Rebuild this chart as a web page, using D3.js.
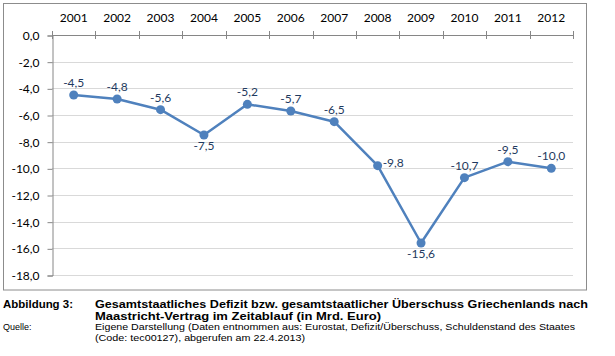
<!DOCTYPE html>
<html><head><meta charset="utf-8">
<script src="https://cdn.jsdelivr.net/npm/d3@7"></script>
<style>body{margin:0;background:#fff}svg{display:block}</style>
</head><body>
<svg id="c" width="615" height="356"></svg>
<script>
const years = ["2001","2002","2003","2004","2005","2006","2007","2008","2009","2010","2011","2012"];
const values = [-4.5,-4.8,-5.6,-7.5,-5.2,-5.7,-6.5,-9.8,-15.6,-10.7,-9.5,-10.0];
const yTicks = [0,-2,-4,-6,-8,-10,-12,-14,-16,-18];
const captionLabel = "Abbildung 3:";
const captionLines = ["Gesamtstaatliches Defizit bzw. gesamtstaatlicher Überschuss Griechenlands nach",
                      "Maastricht-Vertrag im Zeitablauf (in Mrd. Euro)"];
const sourceLabel = "Quelle:";
const sourceLines = ["Eigene Darstellung (Daten entnommen aus: Eurostat, Defizit/Überschuss, Schuldenstand des Staates",
                     "(Code: tec00127), abgerufen am 22.4.2013)"];
// label placement (layout choice, not data)
const placement = {"2004":"below","2008":"right","2009":"below"};

const svg = d3.select("#c");
const fmt = v => d3.format(".1f")(v).replace(".", ",").replace("−","-");
const font = "Lato, 'Open Sans', sans-serif";

// chart frame
svg.append("rect").attr("x",3.5).attr("y",3.5).attr("width",583).attr("height",286.5)
  .attr("fill","#fff").attr("stroke","#8c8c8c").attr("stroke-width",1);

const x = d3.scaleBand().domain(years).range([52,573]).padding(0);
const y = d3.scaleLinear().domain([0,-18]).range([35,275]);

// gridlines
svg.append("g").selectAll("line").data(yTicks.filter(t=>t!==0)).join("line")
  .attr("x1",52).attr("x2",573).attr("y1",d=>Math.round(y(d))+0.5).attr("y2",d=>Math.round(y(d))+0.5)
  .attr("stroke","#d9d9d9").attr("stroke-width",1);

// y axis
const ya = svg.append("g").attr("transform","translate(52.5,0.5)")
  .call(d3.axisLeft(y).tickValues(yTicks).tickSize(5).tickPadding(8).tickFormat(fmt));
ya.select(".domain").attr("stroke","#868686");
ya.selectAll(".tick line").attr("stroke","#868686");
ya.selectAll(".tick text").attr("fill","#000").style("font-family",font).style("font-size","12px");

// top category axis
const xa = svg.append("g");
xa.append("line").attr("x1",52).attr("x2",573).attr("y1",35.5).attr("y2",35.5).attr("stroke","#868686");
const bounds = years.map(d=>x(d)).concat([x.range()[1]]);
xa.selectAll("line.t").data(bounds).join("line").attr("class","t")
  .attr("x1",d=>Math.round(d)+0.5).attr("x2",d=>Math.round(d)+0.5).attr("y1",31).attr("y2",39)
  .attr("stroke","#868686");
xa.selectAll("text").data(years).join("text")
  .attr("x",d=>x(d)+x.bandwidth()/2).attr("y",22).attr("text-anchor","middle")
  .style("font-family",font).style("font-size","12px").attr("fill","#000").text(d=>d);

// line
const pts = years.map((d,i)=>({year:d,v:values[i]}));
const cx = d=>x(d.year)+x.bandwidth()/2;
svg.append("path").datum(pts)
  .attr("d",d3.line().x(cx).y(d=>y(d.v)))
  .attr("fill","none").attr("stroke","#4f81bd").attr("stroke-width",2.5).attr("stroke-linejoin","round");
svg.append("g").selectAll("circle").data(pts).join("circle")
  .attr("cx",cx).attr("cy",d=>y(d.v)).attr("r",4.5).attr("fill","#4f81bd");

// data labels
svg.append("g").selectAll("text").data(pts).join("text")
  .attr("x",d=>placement[d.year]==="right" ? cx(d)+5 : cx(d))
  .attr("y",d=>{const p=placement[d.year]; return p==="below"? y(d.v)+15 : p==="right"? y(d.v)+1 : y(d.v)-8;})
  .attr("text-anchor",d=>placement[d.year]==="right"?"start":"middle")
  .style("font-family",font).style("font-size","12px").attr("fill","#1f3a60")
  .text(d=>fmt(d.v));

// caption
const cf = "'Liberation Sans', Arial, sans-serif";
svg.append("text").attr("x",3).attr("y",308).style("font-family",cf).style("font-size","10px")
  .style("font-weight","bold").attr("textLength",70).attr("lengthAdjust","spacingAndGlyphs").text(captionLabel);
const capLens = [493, 286];
captionLines.forEach((t,i)=>{
  svg.append("text").attr("x",95).attr("y",308+i*11.5).style("font-family",cf).style("font-size","10px")
    .style("font-weight","bold").attr("textLength",capLens[i]).attr("lengthAdjust","spacingAndGlyphs").text(t);
});
svg.append("text").attr("x",3).attr("y",330).style("font-family",cf).style("font-size","9px").text(sourceLabel);
const srcLens = [480, 210];
sourceLines.forEach((t,i)=>{
  svg.append("text").attr("x",95).attr("y",330+i*10.5).style("font-family",cf).style("font-size","9px")
    .attr("textLength",srcLens[i]).attr("lengthAdjust","spacingAndGlyphs").text(t);
});
</script>
</body></html>
